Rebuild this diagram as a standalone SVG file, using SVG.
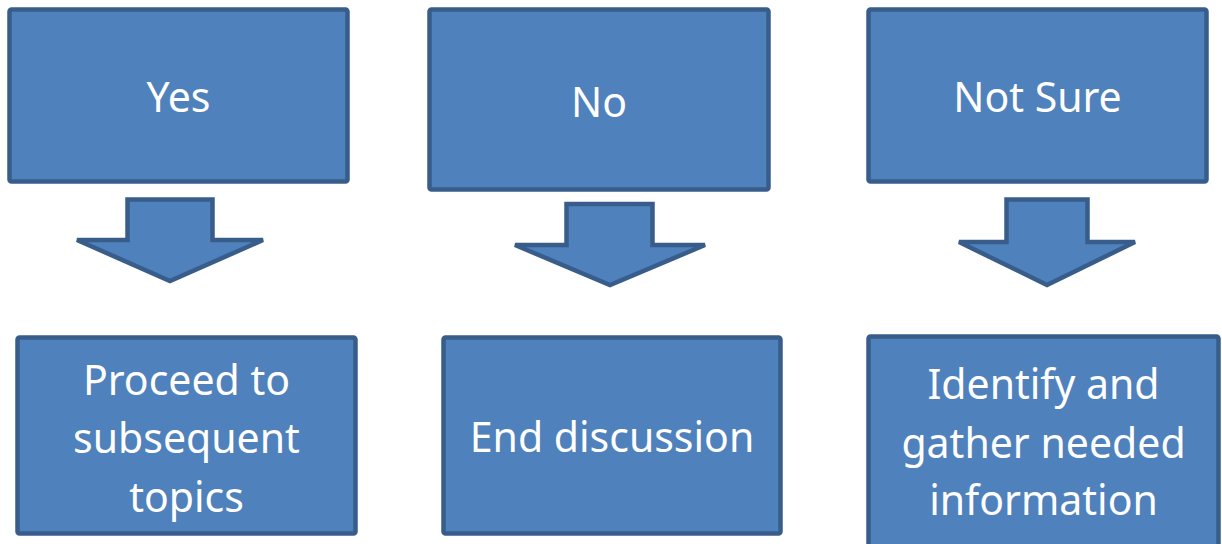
<svg xmlns="http://www.w3.org/2000/svg" width="1222" height="544" viewBox="0 0 1222 544">
<style>
.box{fill:#4F81BD;stroke:#385D8A;stroke-width:4.5}
.arr{fill:#4F81BD;stroke:#385D8A;stroke-width:4.5;stroke-linejoin:miter}
.t{fill:#FFFFFF;font-family:"Noto Sans","Open Sans","Liberation Sans",sans-serif;font-size:41px;text-anchor:middle}
</style>
<rect width="1222" height="544" fill="#FFFFFF"/>
<g id="yes"><rect class="box" x="9.5" y="9.5" width="338" height="172" rx="2"/><text class="t" x="178.5" y="112">Yes</text></g>
<g id="no"><rect class="box" x="429.5" y="9.5" width="339" height="180" rx="2"/><text class="t" x="599" y="117">No</text></g>
<g id="notsure"><rect class="box" x="868.5" y="9.5" width="338" height="172" rx="2"/><text class="t" x="1037.5" y="112">Not Sure</text></g>
<g id="proceed"><rect class="box" x="17.5" y="337.5" width="338" height="196" rx="2"/><text class="t" x="186.5" y="395">Proceed to</text><text class="t" x="186.5" y="453">subsequent</text><text class="t" x="186.5" y="512">topics</text></g>
<g id="end"><rect class="box" x="443.5" y="337.5" width="337" height="196" rx="2"/><text class="t" x="612" y="452">End discussion</text></g>
<g id="identify"><rect class="box" x="868.5" y="336.5" width="350" height="220" rx="2"/><text class="t" x="1043.5" y="399">Identify and</text><text class="t" x="1043.5" y="458">gather needed</text><text class="t" x="1043.5" y="515">information</text></g>
<g id="connectors">
<path class="arr" d="M127.5,199.5 H212.5 V240 H263 L170,281 L77,240 H127.5 Z"/>
<path class="arr" d="M566.5,204 H652.5 V245 H705 L610,285 L515,245 H566.5 Z"/>
<path class="arr" d="M1006.5,199.5 H1087.5 V242 H1135 L1047,285 L959,242 H1006.5 Z"/>
</g>
</svg>
